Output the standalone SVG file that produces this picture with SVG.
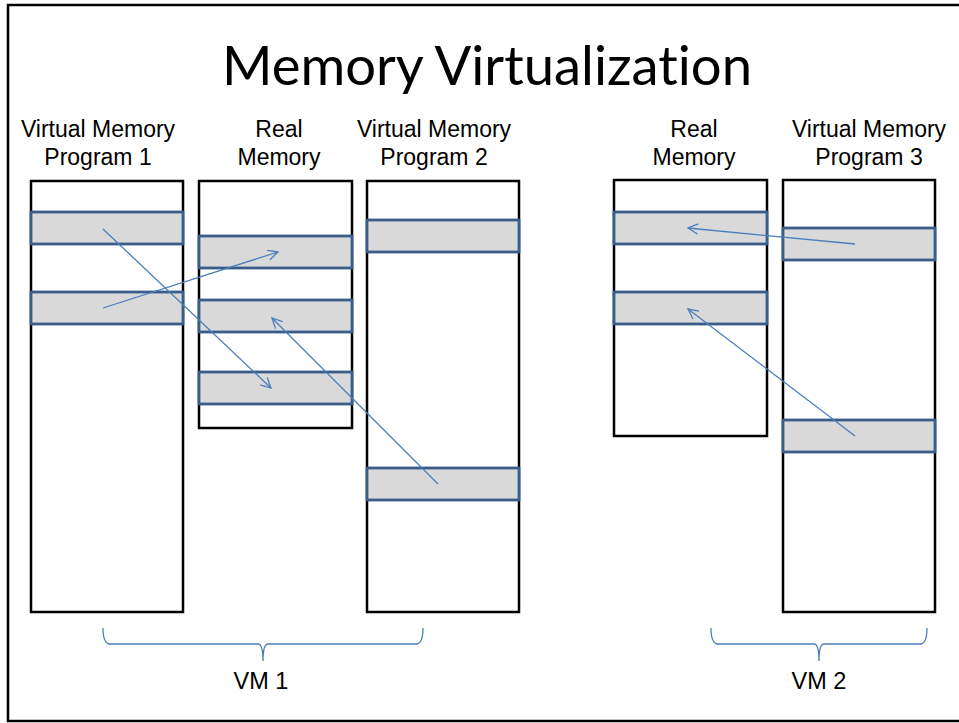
<svg xmlns="http://www.w3.org/2000/svg" width="959" height="723" viewBox="0 0 959 723">
  <style>
    .frame { fill: #ffffff; stroke: #000000; stroke-width: 2.5; }
    .col { fill: #ffffff; stroke: #000000; stroke-width: 2.5; }
    .page { fill: #d9d9d9; stroke: #385d8a; stroke-width: 2.8; }
    .map { fill: none; stroke: #4a7ebb; stroke-width: 1.3; marker-end: url(#open); }
    .brace { fill: none; stroke: #4a7ebb; stroke-width: 1.3; }
    .title { font-family: Lato, "Open Sans", sans-serif; font-size: 54px; fill: #000000; text-anchor: middle; font-variant-ligatures: none; }
    .label { font-family: "Liberation Sans", Arial, sans-serif; font-size: 23px; fill: #000000; text-anchor: middle; }
    .vm { font-family: "Liberation Sans", Arial, sans-serif; font-size: 23.5px; fill: #000000; text-anchor: middle; }
  </style>
  <defs>
    <marker id="open" viewBox="0 0 12 12" refX="11" refY="6" markerWidth="12" markerHeight="12" markerUnits="userSpaceOnUse" orient="auto">
      <path d="M1,1 L11,6 L1,11" fill="none" stroke="#4a7ebb" stroke-width="1.3"/>
    </marker>
  </defs>

  <rect class="frame" x="8" y="5" width="960" height="716"/>

  <text class="title" x="487" y="85" textLength="530" lengthAdjust="spacingAndGlyphs">Memory Virtualization</text>

  <!-- VM 1: virtual memory of program 1 -->
  <g id="vm-program-1">
    <text class="label" x="98" y="137">Virtual Memory</text>
    <text class="label" x="98" y="165">Program 1</text>
    <rect class="col" x="31" y="181" width="152" height="431"/>
    <rect class="page" x="31" y="212" width="152" height="32"/>
    <rect class="page" x="31" y="292" width="152" height="32"/>
  </g>

  <!-- VM 1: real memory -->
  <g id="real-memory-1">
    <text class="label" x="279" y="137">Real</text>
    <text class="label" x="279" y="165">Memory</text>
    <rect class="col" x="199" y="181" width="153" height="247"/>
    <rect class="page" x="199" y="236" width="153" height="32"/>
    <rect class="page" x="199" y="300" width="153" height="32"/>
    <rect class="page" x="199" y="372" width="153" height="32"/>
  </g>

  <!-- VM 1: virtual memory of program 2 -->
  <g id="vm-program-2">
    <text class="label" x="434" y="137">Virtual Memory</text>
    <text class="label" x="434" y="165">Program 2</text>
    <rect class="col" x="367" y="181" width="152" height="431"/>
    <rect class="page" x="367" y="220" width="152" height="32"/>
    <rect class="page" x="367" y="468" width="152" height="32"/>
  </g>

  <!-- VM 2: real memory -->
  <g id="real-memory-2">
    <text class="label" x="694" y="137">Real</text>
    <text class="label" x="694" y="165">Memory</text>
    <rect class="col" x="614" y="180" width="153" height="256"/>
    <rect class="page" x="614" y="212" width="153" height="32"/>
    <rect class="page" x="614" y="292" width="153" height="32"/>
  </g>

  <!-- VM 2: virtual memory of program 3 -->
  <g id="vm-program-3">
    <text class="label" x="869" y="137">Virtual Memory</text>
    <text class="label" x="869" y="165">Program 3</text>
    <rect class="col" x="783" y="180" width="152" height="432"/>
    <rect class="page" x="783" y="228" width="152" height="32"/>
    <rect class="page" x="783" y="420" width="152" height="32"/>
  </g>

  <!-- page mappings -->
  <g id="connectors">
    <line class="map" x1="103" y1="229" x2="271" y2="388"/>
    <line class="map" x1="103" y1="308" x2="278" y2="252"/>
    <line class="map" x1="438" y1="484" x2="272" y2="318"/>
    <line class="map" x1="855" y1="244" x2="688" y2="228"/>
    <line class="map" x1="855" y1="436" x2="688" y2="309"/>
  </g>

  <!-- groupings -->
  <g id="vm1">
    <path class="brace" d="M103,628 Q103,644 110,644 L258,644 Q263,644 263,661 Q263,644 268,644 L416,644 Q423,644 423,628"/>
    <text class="vm" x="261" y="689">VM 1</text>
  </g>
  <g id="vm2">
    <path class="brace" d="M711,628 Q711,644 718,644 L814,644 Q819,644 819,661 Q819,644 824,644 L920,644 Q927,644 927,628"/>
    <text class="vm" x="819" y="689">VM 2</text>
  </g>
</svg>
